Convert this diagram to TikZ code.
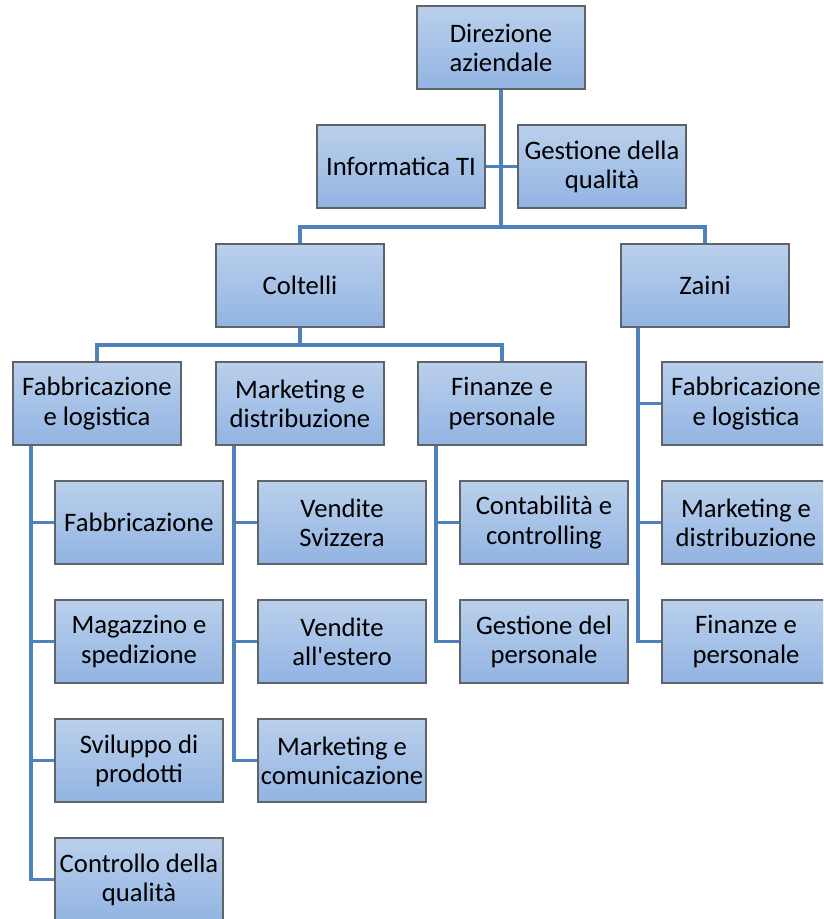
\documentclass[tikz,border=0pt]{standalone}
\usepackage{fontspec}
\setmainfont{Carlito}
\definecolor{boxtop}{HTML}{BAD0EC}
\definecolor{boxbot}{HTML}{92B4E2}
\definecolor{boxline}{HTML}{5F6468}
\definecolor{conn}{HTML}{4F81BD}
\begin{document}
\begin{tikzpicture}[x=0.75pt,y=-0.75pt,
  orgbox/.style={rectangle, top color=boxtop, bottom color=boxbot, draw=boxline, line width=0.8pt,
    minimum width=126pt, minimum height=62.25pt, inner sep=0pt, align=center,
    font=\fontsize{20}{21.8}\selectfont},
  link/.style={draw=conn, line width=2.4pt}]
\clip (0,0) rectangle (823,919);
\fill[white] (0,0) rectangle (823,919);
% connectors first (drawn under boxes)
\coordinate (b1) at (501,227);
\coordinate (b2) at (300,345);
\coordinate (fv) at (31,445);
\coordinate (mv) at (234,445);
\coordinate (pv) at (436,445);
\coordinate (zv) at (638,327);
\coordinate (dirc) at (501,47.5);
\coordinate (infoc) at (401,166.5);
\coordinate (gestc) at (602,166.5);
\coordinate (coltc) at (300,285.5);
\coordinate (zainic) at (705,285.5);
\coordinate (flc) at (97,403.5);
\coordinate (fpc) at (502,403.5);
\coordinate (zflc) at (746,403.5);
\coordinate (zmdc) at (746,522.5);
\coordinate (zfpc) at (746,641.5);
\coordinate (fabc) at (139,522.5);
\coordinate (magc) at (139,641.5);
\coordinate (svic) at (139,760.5);
\coordinate (conc) at (139,879.5);
\coordinate (vsc) at (342,522.5);
\coordinate (vec) at (342,641.5);
\coordinate (mcc) at (342,760.5);
\coordinate (ccc) at (544,522.5);
\coordinate (gpc) at (544,641.5);
\path[link] (dirc) -- (b1);
\path[link] (infoc) -- (gestc);
\path[link] (coltc) |- (b1) -| (zainic);
\path[link] (coltc) -- (b2);
\path[link] (flc) |- (b2) -| (fpc);
\path[link] (fv) |- (fabc);
\path[link] (fv) |- (magc);
\path[link] (fv) |- (svic);
\path[link] (fv) |- (conc);
\path[link] (mv) |- (vsc);
\path[link] (mv) |- (vec);
\path[link] (mv) |- (mcc);
\path[link] (pv) |- (ccc);
\path[link] (pv) |- (gpc);
\path[link] (zv) |- (zflc);
\path[link] (zv) |- (zmdc);
\path[link] (zv) |- (zfpc);
% boxes
\node[orgbox] (dir) at (dirc) {Direzione\\aziendale};
\node[orgbox] (info) at (infoc) {Informatica TI};
\node[orgbox] (gest) at (gestc) {Gestione della\\qualità};
\node[orgbox] (colt) at (coltc) {Coltelli};
\node[orgbox] (zaini) at (zainic) {Zaini};
\node[orgbox] (fl) at (flc) {Fabbricazione\\e logistica};
\node[orgbox] (md) at (300,403.5) {Marketing e\\distribuzione};
\node[orgbox] (fp) at (fpc) {Finanze e\\personale};
\node[orgbox] (zfl) at (zflc) {Fabbricazione\\e logistica};
\node[orgbox] (zmd) at (zmdc) {Marketing e\\distribuzione};
\node[orgbox] (zfp) at (zfpc) {Finanze e\\personale};
\node[orgbox] (fab) at (fabc) {Fabbricazione};
\node[orgbox] (mag) at (magc) {Magazzino e\\spedizione};
\node[orgbox] (svi) at (svic) {Sviluppo di\\prodotti};
\node[orgbox] (con) at (conc) {Controllo della\\qualità};
\node[orgbox] (vs) at (vsc) {Vendite\\Svizzera};
\node[orgbox] (ve) at (vec) {Vendite\\all\textquotesingle estero};
\node[orgbox] (mc) at (mcc) {Marketing e\\comunicazione};
\node[orgbox] (cc) at (ccc) {Contabilità e\\controlling};
\node[orgbox] (gp) at (gpc) {Gestione del\\personale};
\end{tikzpicture}
\end{document}
